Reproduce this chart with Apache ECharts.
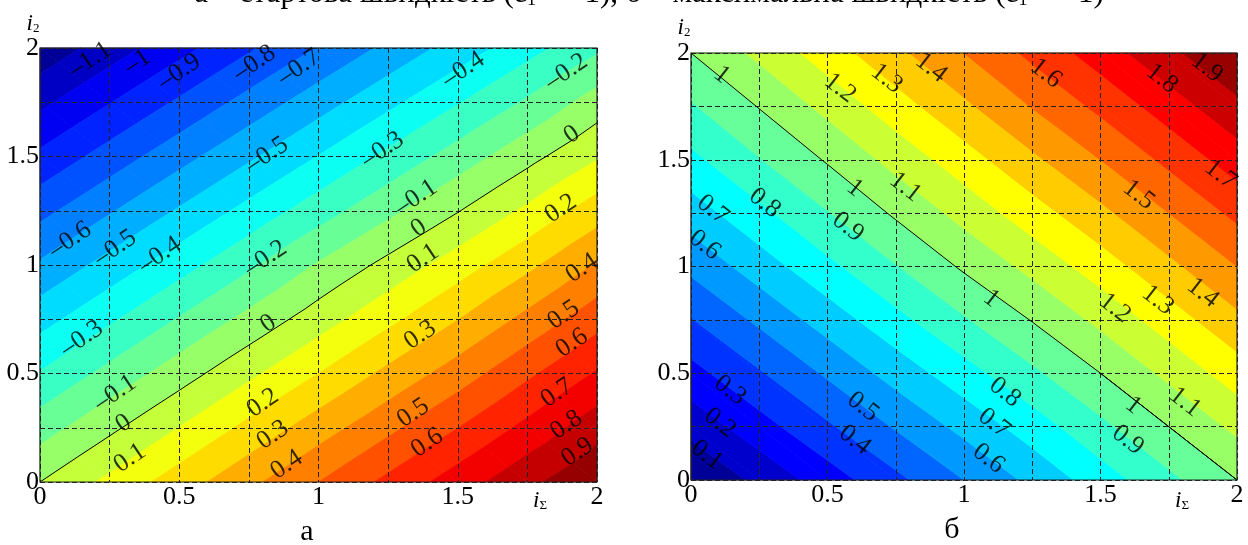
<!DOCTYPE html>
<html><head><meta charset="utf-8">
<script src="https://cdn.jsdelivr.net/npm/echarts@6/dist/echarts.min.js"></script>
<style>html,body{margin:0;padding:0;background:#fff}#c{width:1248px;height:545px}</style>
</head><body><div id="c"></div>
<script>
// grid node positions (both axes, both plots)
const gridTicks = [0, 0.25, 0.5, 0.75, 1, 1.25, 1.5, 1.75, 2];

// contour levels
const levelsA = [-1.2,-1.1,-1.0,-0.9,-0.8,-0.7,-0.6,-0.5,-0.4,-0.3,-0.2,-0.1,0,0.1,0.2,0.3,0.4,0.5,0.6,0.7,0.8,0.9,1.0];
const levelsB = [0,0.1,0.2,0.3,0.4,0.5,0.6,0.7,0.8,0.9,1.0,1.1,1.2,1.3,1.4,1.5,1.6,1.7,1.8,1.9,2.0];
const lineLevelA = 0;
const lineLevelB = 1;

// values at grid nodes, rows = i2 (0..2), columns = iΣ (0..2)  — plot а
const zA = [
  [ 0.000,  0.125,  0.250,  0.375,  0.500,  0.625,  0.750,  0.875,  0.990],
  [-0.146, -0.022,  0.102,  0.227,  0.352,  0.475,  0.599,  0.728,  0.860],
  [-0.293, -0.169, -0.046,  0.078,  0.200,  0.325,  0.448,  0.580,  0.710],
  [-0.439, -0.316, -0.193, -0.071,  0.052,  0.174,  0.297,  0.428,  0.560],
  [-0.585, -0.463, -0.341, -0.219, -0.090,  0.030,  0.150,  0.275,  0.410],
  [-0.731, -0.610, -0.489, -0.368, -0.247, -0.126, -0.005,  0.120,  0.250],
  [-0.878, -0.757, -0.637, -0.517, -0.397, -0.276, -0.156, -0.033,  0.090],
  [-1.024, -0.904, -0.785, -0.665, -0.545, -0.426, -0.307, -0.186, -0.055],
  [-1.170, -1.051, -0.933, -0.814, -0.695, -0.576, -0.458, -0.339, -0.220]
];
// plot б
const zB = [
  [0.000, 0.125, 0.250, 0.375, 0.500, 0.625, 0.750, 0.875, 1.000],
  [0.135, 0.260, 0.385, 0.510, 0.630, 0.750, 0.875, 1.000, 1.125],
  [0.265, 0.390, 0.515, 0.640, 0.760, 0.880, 1.000, 1.125, 1.250],
  [0.395, 0.520, 0.645, 0.770, 0.890, 1.005, 1.125, 1.250, 1.375],
  [0.525, 0.650, 0.775, 0.895, 1.015, 1.130, 1.250, 1.375, 1.500],
  [0.650, 0.775, 0.895, 1.015, 1.135, 1.255, 1.375, 1.500, 1.625],
  [0.775, 0.895, 1.010, 1.135, 1.255, 1.380, 1.500, 1.625, 1.750],
  [0.890, 1.005, 1.130, 1.255, 1.380, 1.505, 1.625, 1.750, 1.875],
  [1.000, 1.125, 1.250, 1.375, 1.500, 1.625, 1.750, 1.875, 2.000]
];

// contour labels [iΣ, i2, text]
const labelsA = [
 [0.18,1.945,'–1.1'],[0.35,1.935,'–1'],[0.50,1.89,'–0.9'],[0.77,1.93,'–0.8'],[0.93,1.91,'–0.7'],
 [1.52,1.90,'–0.4'],[1.89,1.89,'–0.2'],[0.815,1.507,'–0.5'],[1.23,1.53,'–0.3'],
 [0.108,1.115,'–0.6'],[0.27,1.078,'–0.5'],[0.43,1.046,'–0.4'],[0.81,1.03,'–0.2'],
 [1.35,1.31,'–0.1'],[1.91,1.60,'0'],[1.36,1.17,'0'],[1.87,1.26,'0.2'],[1.375,1.03,'0.1'],[1.946,0.985,'0.4'],
 [0.15,0.66,'–0.3'],[0.27,0.41,'–0.1'],[0.30,0.27,'0'],[0.323,0.11,'0.1'],[0.82,0.73,'0'],
 [0.80,0.364,'0.2'],[0.836,0.217,'0.3'],[0.886,0.08,'0.4'],
 [1.365,0.677,'0.3'],[1.34,0.318,'0.5'],[1.39,0.18,'0.6'],[1.88,0.77,'0.5'],[1.91,0.64,'0.6'],
 [1.856,0.41,'0.7'],[1.89,0.263,'0.8'],[1.93,0.138,'0.9']
];
const labelsB = [
 [0.113,1.897,'1'],[0.60,1.367,'1'],[1.10,0.85,'1'],[1.62,0.35,'1'],
 [0.546,1.836,'1.2'],[0.717,1.88,'1.3'],[0.88,1.93,'1.4'],[1.30,1.905,'1.6'],[1.725,1.88,'1.8'],
 [1.89,1.93,'1.9'],[1.94,1.43,'1.7'],[1.64,1.335,'1.5'],
 [0.785,1.372,'1.1'],[0.575,1.185,'0.9'],[0.27,1.297,'0.8'],[0.08,1.265,'0.7'],[0.05,1.10,'0.6'],
 [0.058,0.117,'0.1'],[0.106,0.267,'0.2'],[0.143,0.42,'0.3'],[0.60,0.187,'0.4'],[0.63,0.343,'0.5'],
 [1.15,0.41,'0.8'],[1.11,0.265,'0.7'],[1.09,0.10,'0.6'],[1.6,0.187,'0.9'],[1.81,0.365,'1.1'],
 [1.553,0.805,'1.2'],[1.71,0.843,'1.3'],[1.875,0.876,'1.4']
];

const SERIF = '"Liberation Serif","DejaVu Serif",serif';

function jet(t){
  const c = v => Math.max(0, Math.min(1, v));
  const r = c(1.5 - Math.abs(4*t - 3)), g = c(1.5 - Math.abs(4*t - 2)), b = c(1.5 - Math.abs(4*t - 1));
  return 'rgb(' + Math.round(r*255) + ',' + Math.round(g*255) + ',' + Math.round(b*255) + ')';
}
function clip(poly, L, s){
  const out = [];
  for (let n = 0; n < poly.length; n++){
    const p = poly[n], q = poly[(n+1) % poly.length];
    const dp = s*(p[2]-L), dq = s*(q[2]-L);
    if (dp >= 0) out.push(p);
    if ((dp >= 0) !== (dq >= 0)){
      const t = dp/(dp-dq);
      out.push([p[0]+t*(q[0]-p[0]), p[1]+t*(q[1]-p[1]), L]);
    }
  }
  return out;
}
function area(poly){
  let a = 0;
  for (let n = 0; n < poly.length; n++){ const p = poly[n], q = poly[(n+1)%poly.length]; a += p[0]*q[1]-q[0]*p[1]; }
  return Math.abs(a/2);
}
function cellTris(api, z){
  const i = api.value(0), j = api.value(1);
  const x0 = gridTicks[i], x1 = gridTicks[i+1], y0 = gridTicks[j], y1 = gridTicks[j+1];
  const P = (x, y, v) => { const p = api.coord([x, y]); return [p[0], p[1], v]; };
  const a = P(x0,y0,z[j][i]), b = P(x1,y0,z[j][i+1]), c = P(x1,y1,z[j+1][i+1]), d = P(x0,y1,z[j+1][i]);
  return [[a,b,d],[b,c,d]];
}
function fillRender(z, levels){
  const lo = levels[0], hi = levels[levels.length-1];
  return function(params, api){
    const children = [];
    for (const t of cellTris(api, z)){
      for (let k = 0; k < levels.length-1; k++){
        let poly = clip(t, levels[k], 1);
        if (poly.length < 3) continue;
        poly = clip(poly, levels[k+1], -1);
        if (poly.length < 3 || area(poly) < 0.3) continue;
        const col = jet(((levels[k]+levels[k+1])/2 - lo)/(hi - lo));
        children.push({type:'polygon', shape:{points: poly.map(p => [p[0], p[1]])},
          style:{fill: col, stroke: col, lineWidth: 0.8}});
      }
    }
    return {type:'group', children};
  };
}
function lineRender(z, lev){
  return function(params, api){
    const children = [];
    for (const t of cellTris(api, z)){
      const pts = [];
      for (let n = 0; n < 3; n++){
        const p = t[n], q = t[(n+1)%3];
        const dp = p[2]-lev, dq = q[2]-lev;
        if (dp === 0) pts.push(p);
        else if (dp*dq < 0){ const s = dp/(dp-dq); pts.push([p[0]+s*(q[0]-p[0]), p[1]+s*(q[1]-p[1])]); }
      }
      if (pts.length === 2) children.push({type:'line', shape:{x1:pts[0][0], y1:pts[0][1], x2:pts[1][0], y2:pts[1][1]},
        style:{stroke:'#000', lineWidth:1}});
    }
    return {type:'group', children};
  };
}
function frameRender(params, api){
  const a = api.coord([0, 2]), b = api.coord([2, 0]);
  return {type:'rect', shape:{x:a[0], y:a[1], width:b[0]-a[0], height:b[1]-a[1]},
    style:{fill:'none', stroke:'#222', lineWidth:1.2}};
}

const cells = [];
for (let i = 0; i < gridTicks.length-1; i++) for (let j = 0; j < gridTicks.length-1; j++) cells.push([i, j]);

const tickFmt = v => (Math.abs(v*2 - Math.round(v*2)) < 1e-6) ? String(+v.toFixed(2)) : '';
function mkX(g){ return {type:'value', gridIndex:g, min:0, max:2, interval:0.25, z:3,
  axisLine:{show:false}, axisTick:{show:false},
  axisLabel:{formatter: tickFmt, color:'#000', fontFamily:SERIF, fontSize:26, margin:2},
  splitLine:{show:true, lineStyle:{color:'#222', type:[5,3], width:1}}}; }
function mkY(g){ return {type:'value', gridIndex:g, min:0, max:2, interval:0.25, z:3,
  axisLine:{show:false}, axisTick:{show:false},
  axisLabel:{formatter: tickFmt, color:'#000', fontFamily:SERIF, fontSize:26, margin:1},
  splitLine:{show:true, lineStyle:{color:'#222', type:[5,3], width:1}}}; }

function plotSeries(g, z, levels, lev, labels, rot){
  return [
    {type:'custom', xAxisIndex:g, yAxisIndex:g, data:cells, renderItem:fillRender(z, levels), z:1, silent:true},
    {type:'custom', xAxisIndex:g, yAxisIndex:g, data:cells, renderItem:lineRender(z, lev), z:4, silent:true},
    {type:'custom', xAxisIndex:g, yAxisIndex:g, data:[[0,0]], renderItem:frameRender, z:5, silent:true},
    {type:'scatter', xAxisIndex:g, yAxisIndex:g, data:labels, symbol:'circle', symbolSize:2,
     itemStyle:{color:'rgba(0,0,0,0)'}, z:6, silent:true,
     label:{show:true, position:'inside', formatter: p => p.data[2], rotate: rot,
       color:'#000', fontFamily:SERIF, fontSize:26}}
  ];
}

const rich = {
  t:{fontFamily:SERIF, fontSize:31, color:'#000'},
  s:{fontFamily:SERIF, fontSize:18, color:'#000', verticalAlign:'bottom', lineHeight:18}
};
const nameRich = {
  i:{fontFamily:SERIF, fontStyle:'italic', fontSize:23, color:'#333', lineHeight:23},
  s:{fontFamily:SERIF, fontSize:13, color:'#333', verticalAlign:'bottom', lineHeight:13}
};

const chart = echarts.init(document.getElementById('c'), null, {renderer:'canvas'});
chart.setOption({
  animation:false,
  backgroundColor:'#fff',
  grid:[
    {left:40, top:48, width:557, height:434},
    {left:691, top:53, width:546, height:427}
  ],
  xAxis:[mkX(0), mkX(1)],
  yAxis:[mkY(0), mkY(1)],
  series:[].concat(
    plotSeries(0, zA, levelsA, lineLevelA, labelsA, 34),
    plotSeries(1, zB, levelsB, lineLevelB, labelsB, -38)
  ),
  graphic:[
    {type:'text', x:649, y:-6, silent:true, style:{text:'{t|а – стартова швидкість (ε}{s|1}{t| = –1), б – максимальна швидкість (ε}{s|1}{t| = +1)}',
      rich, align:'center', verticalAlign:'middle'}},
    {type:'text', x:33, y:24, silent:true, style:{text:'{i|i}{s|2}', rich:nameRich, align:'center', verticalAlign:'middle'}},
    {type:'text', x:684, y:28, silent:true, style:{text:'{i|i}{s|2}', rich:nameRich, align:'center', verticalAlign:'middle'}},
    {type:'text', x:540, y:501, silent:true, style:{text:'{i|i}{s|Σ}', rich:nameRich, align:'center', verticalAlign:'middle'}},
    {type:'text', x:1182, y:501, silent:true, style:{text:'{i|i}{s|Σ}', rich:nameRich, align:'center', verticalAlign:'middle'}},
    {type:'text', x:307, y:532, silent:true, style:{text:'а', fontFamily:SERIF, fontSize:30, fill:'#000', align:'center', verticalAlign:'middle'}},
    {type:'text', x:952, y:530, silent:true, style:{text:'б', fontFamily:SERIF, fontSize:30, fill:'#000', align:'center', verticalAlign:'middle'}}
  ]
});
</script>
</body></html>
